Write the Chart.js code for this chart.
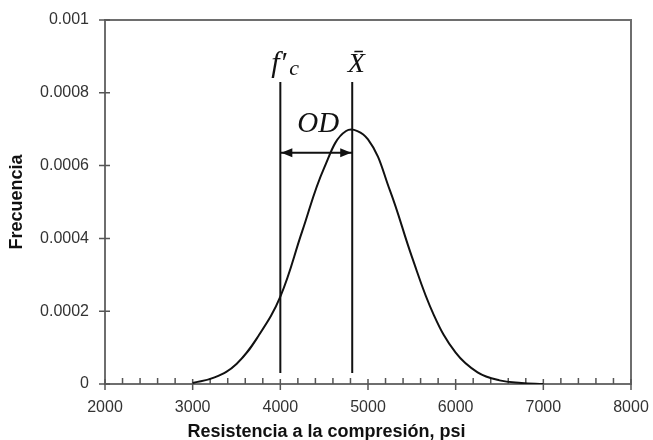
<!DOCTYPE html>
<html lang="es">
<head>
<meta charset="UTF-8">
<title>Frecuencia vs resistencia a la compresión</title>
<script src="https://cdn.jsdelivr.net/npm/chart.js"></script>
</head>
<body style="margin:0; padding:0; background:#fff;">
<div style="width:653px; height:440px;">
  <canvas id="grafico" width="653" height="440"></canvas>
</div>
<script>
  // curva (psi -> frecuencia)
  const resistencia = [3000, 3250, 3500, 3750, 4000, 4250, 4500, 4750, 5000, 5250, 5500, 5750, 6000, 6250, 6500, 6750, 7000];
  const frecuencia = [0.000003, 0.000018, 0.000055, 0.000132, 0.000240, 0.000420, 0.000594, 0.000695, 0.000672, 0.000532, 0.000350, 0.000190, 0.000086, 0.000032, 0.000010, 0.000003, 0];

  // lineas f'c y media, flecha OD
  const fc = 4000;
  const media = 4820;
  const lineaBase = 0.00003;
  const lineaTope = 0.00083;
  const flechaY = 0.000635;

  const xTicks = [2000, 3000, 4000, 5000, 6000, 7000, 8000];
  const xTickLabels = ['2000', '3000', '4000', '5000', '6000', '7000', '8000'];
  const yTicks = [0, 0.0002, 0.0004, 0.0006, 0.0008, 0.001];
  const yTickLabels = ['0', '0.0002', '0.0004', '0.0006', '0.0008', '0.001'];
  const xMinor = [2200, 2400, 2600, 2800, 3200, 3400, 3600, 3800, 4200, 4400, 4600, 4800,
                  5200, 5400, 5600, 5800, 6200, 6400, 6600, 6800, 7200, 7400, 7600, 7800];

  const negro = '#111';
  const gris = '#6e6e6e';

  const decoracion = {
    id: 'decoracion',
    beforeDatasetsDraw(chart) {
      const ctx = chart.ctx;
      const a = chart.chartArea;
      const x = chart.scales.x, y = chart.scales.y;
      ctx.save();
      ctx.strokeStyle = gris;
      ctx.lineWidth = 2;
      ctx.strokeRect(a.left, a.top, a.right - a.left, a.bottom - a.top);
      ctx.strokeStyle = '#555';
      ctx.lineWidth = 1.5;
      ctx.beginPath();
      xMinor.forEach(v => {
        const px = x.getPixelForValue(v);
        ctx.moveTo(px, a.bottom); ctx.lineTo(px, a.bottom - 6);
      });
      xTicks.forEach(v => {
        const px = x.getPixelForValue(v);
        ctx.moveTo(px, a.bottom - 5); ctx.lineTo(px, a.bottom + 6);
      });
      yTicks.forEach(v => {
        const py = y.getPixelForValue(v);
        ctx.moveTo(a.left - 6, py); ctx.lineTo(a.left + 5, py);
      });
      ctx.stroke();
      ctx.restore();
    },
    afterDatasetsDraw(chart) {
      const ctx = chart.ctx;
      const x = chart.scales.x, y = chart.scales.y;
      const fcPx = x.getPixelForValue(fc);
      const mPx = x.getPixelForValue(media);
      const ay = y.getPixelForValue(flechaY);
      const topPx = y.getPixelForValue(lineaTope);
      ctx.save();
      ctx.fillStyle = negro;
      // puntas de flecha
      ctx.beginPath();
      ctx.moveTo(fcPx + 1, ay); ctx.lineTo(fcPx + 12, ay - 4.5); ctx.lineTo(fcPx + 12, ay + 4.5);
      ctx.closePath();
      ctx.moveTo(mPx - 1, ay); ctx.lineTo(mPx - 12, ay - 4.5); ctx.lineTo(mPx - 12, ay + 4.5);
      ctx.closePath();
      ctx.fill();

      ctx.textBaseline = 'alphabetic';
      ctx.font = 'italic 30px "Liberation Serif"';
      ctx.textAlign = 'left';
      ctx.fillText('f\u2032', fcPx - 9, topPx - 10);
      ctx.font = 'italic 22px "Liberation Serif"';
      ctx.fillText('c', fcPx + 9, topPx - 7);

      ctx.font = 'italic 28px "Liberation Serif"';
      ctx.textAlign = 'center';
      ctx.fillText('X\u0304', mPx + 4, topPx - 10);
      ctx.font = 'italic 29px "Liberation Serif"';
      ctx.fillText('OD', (fcPx + mPx) / 2 + 2, ay - 21);
      ctx.restore();
    }
  };

  const curva = resistencia.map((v, i) => ({ x: v, y: frecuencia[i] }));

  new Chart(document.getElementById('grafico'), {
    type: 'line',
    data: {
      datasets: [
        { data: curva, borderColor: negro, borderWidth: 2, pointRadius: 0, tension: 0.4 },
        { data: [{ x: fc, y: lineaBase }, { x: fc, y: lineaTope }], borderColor: negro, borderWidth: 2, pointRadius: 0 },
        { data: [{ x: media, y: lineaBase }, { x: media, y: lineaTope }], borderColor: negro, borderWidth: 2, pointRadius: 0 },
        { data: [{ x: fc, y: flechaY }, { x: media, y: flechaY }], borderColor: negro, borderWidth: 2, pointRadius: 0 }
      ]
    },
    options: {
      responsive: false,
      animation: false,
      layout: { padding: { top: 20, right: 0, left: 0, bottom: 0 } },
      plugins: {
        legend: { display: false },
        tooltip: { enabled: false },
        title: {
          display: true,
          position: 'bottom',
          text: 'Resistencia a la compresión, psi',
          color: negro,
          font: { family: 'Liberation Sans', size: 18, weight: 'bold', lineHeight: 1.2 },
          padding: { top: 0, bottom: -3 }
        }
      },
      scales: {
        x: {
          type: 'linear',
          min: 2000,
          max: 8000,
          grid: { display: false, drawTicks: false },
          border: { display: false },
          afterBuildTicks: s => { s.ticks = xTicks.map(v => ({ value: v })); },
          afterFit: s => { s.height = 37.4; s.paddingLeft = 0; s.paddingRight = 22; },
          ticks: {
            autoSkip: false,
            maxRotation: 0,
            padding: 14,
            color: '#333',
            font: { family: 'Liberation Sans', size: 16 },
            callback: (v, i) => xTickLabels[i]
          }
        },
        y: {
          min: 0,
          max: 0.001,
          grid: { display: false, drawTicks: false },
          border: { display: false },
          afterBuildTicks: s => { s.ticks = yTicks.map(v => ({ value: v })); },
          afterFit: s => { s.width = 105; s.paddingTop = 0; s.paddingBottom = 0; },
          ticks: {
            padding: 16,
            color: '#333',
            font: { family: 'Liberation Sans', size: 16 },
            callback: (v, i) => yTickLabels[i]
          },
          title: {
            display: true,
            text: 'Frecuencia',
            color: negro,
            font: { family: 'Liberation Sans', size: 18, weight: 'bold', lineHeight: 1.2 },
            padding: { top: 6, bottom: 0 }
          }
        }
      }
    },
    plugins: [decoracion]
  });
</script>
</body>
</html>
